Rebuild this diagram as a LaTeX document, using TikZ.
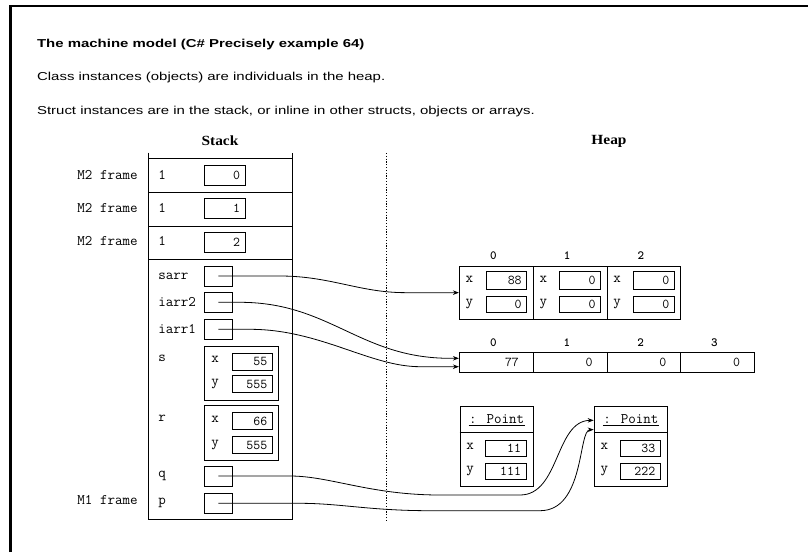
\documentclass[tikz,border=0pt]{standalone}
\usepackage{fontspec}
\setmainfont{Liberation Serif}
\newfontfamily\hsans[FakeStretch=1.3]{Liberation Sans}
\newfontfamily\hserif[FakeStretch=1.1]{Liberation Serif}
\usetikzlibrary{arrows.meta,calc}
\tikzset{
  capt/.style={font=\hsans\fontsize{11.5}{13}\selectfont, anchor=base west, inner sep=0pt},
  capb/.style={capt, font=\hsans\bfseries\fontsize{11.5}{13}\selectfont},
  head/.style={font=\hserif\bfseries\fontsize{14}{16}\selectfont, inner sep=0pt},
  lab/.style={font=\ttfamily\fontsize{14.6}{16}\selectfont, inner sep=0pt},
  idx/.style={font=\ttfamily\bfseries\fontsize{12.5}{13}\selectfont, inner sep=0pt},
  vbox/.style={draw, rectangle, inner ysep=0pt, inner xsep=5pt, align=right, font=\ttfamily\fontsize{13.5}{13.5}\selectfont},
  ival/.style={font=\ttfamily\fontsize{13.5}{13.5}\selectfont, inner sep=0pt, anchor=east},
  rbox/.style={draw, rectangle, minimum width=28pt, minimum height=20pt, inner sep=0pt},
  frm/.style={draw, rectangle, inner sep=0pt},
  ptr/.style={line width=0.8pt, -{Stealth[length=6pt,width=4.5pt]}},
  dotline/.style={dash pattern=on 1.2pt off 1.6pt, line width=0.9pt},
}
\begin{document}
\begin{tikzpicture}[x=1pt,y=-1pt,line width=0.8pt]
\useasboundingbox (0,0) rectangle (808,552);
% outer frame
\draw[line width=2.4pt] (10.5,552) -- (10.5,6.2) -- (808,6.2);
% captions
\node[capb] (t1) at (36.7,47.3) {The machine model (C\# Precisely example 64)};
\node[capt] (t2) at (36.7,80.7) {Class instances (objects) are individuals in the heap.};
\node[capt] (t3) at (36.7,114.5) {Struct instances are in the stack, or inline in other structs, objects or arrays.};
% headings
\node[head] (stackhd) at (220,141) {Stack};
\node[head] (heaphd) at (609,141) {Heap};
% dotted separator
\draw[dotline] (386.7,153) -- (386.7,521);
% stack outline
\draw (148.3,152.7) -- (148.3,519.3) -- (292.7,519.3) -- (292.7,152.7);
\draw (148.3,158.3) -- (292.7,158.3);
\foreach \yy in {192.3,226,259.3} \draw (148.3,\yy) -- (292.7,\yy);
% M2 frames
\node[lab, anchor=base east] (f1) at (138,179) {M2 frame};
\node[lab, anchor=base east] (f2) at (138,212.3) {M2 frame};
\node[lab, anchor=base east] (f3) at (138,245) {M2 frame};
\node[lab, anchor=base west] (one1) at (158,179) {1};
\node[lab, anchor=base west] (one2) at (158,212.3) {1};
\node[lab, anchor=base west] (one3) at (158,245) {1};
\node[vbox, text width=30.7pt, minimum height=20pt] (m2a) at (224.7,175.7) {0};
\node[vbox, text width=30.7pt, minimum height=20pt] (m2b) at (224.7,208.3) {1};
\node[vbox, text width=30.7pt, minimum height=20pt] (m2c) at (224.7,242.3) {2};
% M1 frame
\node[lab, anchor=base east] (f4) at (138,504) {M1 frame};
\node[lab, anchor=base west] (lsarr) at (158,279.3) {sarr};
\node[lab, anchor=base west] (liarr2) at (158,306.7) {iarr2};
\node[lab, anchor=base west] (liarr1) at (158,333.3) {iarr1};
\node[lab, anchor=base west] (ls) at (158,361.7) {s};
\node[lab, anchor=base west] (lr) at (158,421.7) {r};
\node[lab, anchor=base west] (lq) at (158,477) {q};
\node[lab, anchor=base west] (lp) at (158,504) {p};
\node[rbox] (sarrb) at (218.3,276) {};
\node[rbox] (iarr2b) at (218.3,302.3) {};
\node[rbox] (iarr1b) at (218.3,329.3) {};
\node[rbox] (qb) at (218.3,476) {};
\node[rbox] (pb) at (218.3,503.3) {};
% struct s
\node[frm, minimum width=74pt, minimum height=53.3pt] (sst) at (241.3,373.35) {};
\node[lab, anchor=base west] (sxl) at (211,362.5) {x};
\node[lab, anchor=base west] (syl) at (211,385) {y};
\node[vbox, text width=30pt, minimum height=16.7pt] (sx) at (252.3,361.7) {55};
\node[vbox, text width=30pt, minimum height=16.7pt] (sy) at (252.3,384) {555};
% struct r
\node[frm, minimum width=74pt, minimum height=55pt] (rst) at (241.3,433.2) {};
\node[lab, anchor=base west] (rxl) at (211,422) {x};
\node[lab, anchor=base west] (ryl) at (211,446) {y};
\node[vbox, text width=30pt, minimum height=16.7pt] (rx) at (252.3,421) {66};
\node[vbox, text width=30pt, minimum height=16.7pt] (ry) at (252.3,445) {555};
% struct array
\node[frm, minimum width=221.4pt, minimum height=53.3pt] (sa) at (570,292.65) {};
\draw (533.1,266) -- (533.1,319.3);
\draw (606.9,266) -- (606.9,319.3);
\foreach \k/\vx/\vy in {0/88/0,1/0/0,2/0/0}{
  \pgfmathsetmacro{\L}{459.3+73.8*\k}
  \node[idx] (sai\k) at (\L+34,256) {\k};
  \node[lab, anchor=base west] (saxl\k) at (\L+6,282.7) {x};
  \node[lab, anchor=base west] (sayl\k) at (\L+6,305.5) {y};
  \node[vbox, text width=30.7pt, minimum height=17.6pt] (sax\k) at (\L+47,280.5) {\vx};
  \node[vbox, text width=30.7pt, minimum height=16.7pt] (say\k) at (\L+47,304.3) {\vy};
}
% int array
\node[frm, minimum width=294.7pt, minimum height=20pt] (iarr) at (606.65,362.7) {};
\foreach \xx in {533.3,606.9,680.7} \draw (\xx,352.7) -- (\xx,372.7);
\foreach \k/\v in {0/77,1/0,2/0,3/0}{
  \pgfmathsetmacro{\L}{459.3+73.7*\k}
  \node[idx] (iai\k) at (\L+34,342.7) {\k};
  \node[ival] (iav\k) at (\L+60,362.7) {\v};
}
% Point objects
\foreach \n/\cx/\vx/\vy in {1/496.65/11/111,2/630.85/33/222}{
  \node[frm, minimum width=73.5pt, minimum height=80.7pt] (pt\n) at (\cx,446.35) {};
  \draw ($(pt\n.north west)+(0,26.7)$) -- ($(pt\n.north east)+(0,26.7)$);
  \node[lab, anchor=base] (pth\n) at (\cx,423) {: Point};
  \draw[line width=0.7pt] ($(pth\n.base west)+(0,2.7)$) -- ($(pth\n.base east)+(0,2.7)$);
  \node[lab, anchor=base west] (ptxl\n) at (\cx-30.6,449.5) {x};
  \node[lab, anchor=base west] (ptyl\n) at (\cx-30.6,472.5) {y};
  \node[vbox, text width=30.3pt, minimum height=16pt] (ptx\n) at (\cx+9.2,448) {\vx};
  \node[vbox, text width=30.3pt, minimum height=16pt] (pty\n) at (\cx+9.2,471.3) {\vy};
}
% arrow end points
\coordinate (ia2in) at ($(iarr.west)+(0,-4.4)$);
\coordinate (ia1in) at ($(iarr.west)+(0,4)$);
\coordinate (pt2in1) at ($(pt2.north west)+(0,14.7)$);
\coordinate (pt2in2) at ($(pt2.north west)+(0,24)$);
% connectors
\draw[ptr] (sarrb.center) -- (280,276) .. controls (330,276) and (360,292.65) .. (405,292.65) -- (sa.west);
\draw[ptr] (iarr2b.center) -- (240,302.3) .. controls (330,302.3) and (360,358.3) .. (450,358.3) -- (ia2in);
\draw[ptr] (iarr1b.center) -- (250,329.3) .. controls (320,329.3) and (370,366.7) .. (420,366.7) -- (ia1in);
\draw[ptr] (qb.center) -- (290,476) .. controls (330,476) and (370,495) .. (440,495) -- (520,495) .. controls (560,495) and (555,420.7) .. (pt2in1);
\draw[ptr] (pb.center) -- (300,503.3) .. controls (340,503.3) and (370,510.7) .. (430,510.7) -- (540,510.7) .. controls (585,510.7) and (578,430) .. (pt2in2);
\end{tikzpicture}
\end{document}
